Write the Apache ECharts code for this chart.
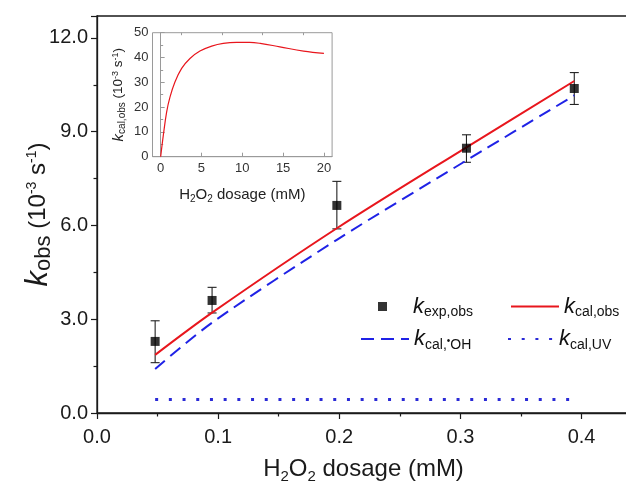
<!DOCTYPE html>
<html><head><meta charset="utf-8">
<script src="https://cdn.jsdelivr.net/npm/echarts@6/dist/echarts.min.js"></script>
<style>html,body{margin:0;padding:0;background:#fff}#c{width:626px;height:483px}</style>
</head><body><div id="c"></div>
<script>
// ---- data ----
const dosage = [0.048, 0.095, 0.198, 0.305, 0.394];
const kExpObs = [2.29, 3.60, 6.64, 8.47, 10.38];
const kExpLow = [1.61, 3.20, 5.89, 8.02, 9.87];
const kExpHigh = [2.95, 4.02, 7.41, 8.90, 10.89];
const kCalObs = [1.86, 3.21, 5.91, 8.50, 10.62];
const kCalOH = [1.41, 2.89, 5.54, 8.08, 10.16];
const kCalUV = [0.43, 0.43, 0.43, 0.43, 0.43];
const insetDosage = [0, 0.32, 0.73, 1.14, 1.75, 2.57, 3.59, 4.81, 6.25, 7.67, 9.3, 10.9, 12.2, 14.6, 17.5, 20];
const insetKCalObs = [0, 8.5, 18, 24, 30.1, 35.6, 39.6, 42.6, 44.6, 45.7, 46.1, 46.1, 45.7, 44.3, 42.6, 41.7];
const insetXTicks = [0, 5, 10, 15, 20];
const insetXMinorTicks = [2.5, 7.5, 12.5, 17.5];

const FONT = '"Liberation Sans", Arial, sans-serif';
const zip = (a, b) => a.map((v, i) => [v, b[i]]);

const legendRich = {
  g: {width: 21, fontSize: 10},
  k: {fontSize: 22, fontStyle: 'italic', lineHeight: 26, fontFamily: FONT, color: '#111'},
  s: {fontSize: 14, lineHeight: 14, verticalAlign: 'bottom', fontFamily: FONT, color: '#111'},
  d: {fontSize: 10, lineHeight: 10, verticalAlign: 'bottom', padding: [0, 0, 6, 0], fontFamily: FONT, color: '#111'}
};
const legendNames = {
  'kexp': '{g| }{k|k}{s|exp,obs}',
  'kcalobs': '{k|k}{s|cal,obs}',
  'kcaloh': '{k|k}{s|cal,}{d|•}{s|OH}',
  'kcaluv': '{k|k}{s|cal,UV}'
};
function mkLegend(name, left, top, w, h, hideSymbol) {
  const l = {
    data: [name], left: left, top: top, padding: 0, itemWidth: w, itemHeight: h,
    formatter: n => legendNames[n], selectedMode: false,
    textStyle: {rich: legendRich, fontFamily: FONT}
  };
  if (hideSymbol) l.itemStyle = {opacity: 0, borderWidth: 0};
  return l;
}

const chart = echarts.init(document.getElementById('c'), null, {renderer: 'canvas'});
chart.setOption({
  backgroundColor: '#fff',
  animation: false,
  grid: [
    {left: 97, top: 16, width: 533, height: 397, outerBoundsMode: 'none', containLabel: false, show: true, borderColor: '#1a1a1a', borderWidth: 1.3, backgroundColor: 'transparent'},
    {left: 152.5, top: 32.7, width: 179.6, height: 124, outerBoundsMode: 'none', containLabel: false, show: true, borderColor: '#9a9a9a', borderWidth: 1, backgroundColor: '#fff'}
  ],
  xAxis: [
    {
      gridIndex: 0, type: 'value', min: 0, max: 0.44, interval: 0.1,
      axisLine: {show: true, lineStyle: {color: '#1a1a1a', width: 1.3}},
      axisTick: {show: true, inside: false, length: 6, lineStyle: {color: '#1a1a1a', width: 1.2}},
      minorTick: {show: true, splitNumber: 2, length: 3.5, lineStyle: {color: '#1a1a1a', width: 1.2}},
      splitLine: {show: false},
      axisLabel: {fontSize: 20, fontFamily: FONT, color: '#1a1a1a', margin: 14, showMaxLabel: false, formatter: v => v.toFixed(1)},
      name: '{n|H}{s|2}{n|O}{s|2}{n| dosage (mM)}', nameLocation: 'middle', nameGap: 41,
      nameTextStyle: {rich: {
        n: {fontSize: 24, lineHeight: 30, fontFamily: FONT, color: '#1a1a1a'},
        s: {fontSize: 15, lineHeight: 15, verticalAlign: 'bottom', fontFamily: FONT, color: '#1a1a1a'}
      }}
    },
    {
      gridIndex: 1, type: 'value', min: -1, max: 21,
      axisLine: {show: true, lineStyle: {color: '#9a9a9a', width: 1}},
      axisTick: {show: true, inside: true, length: 4, customValues: insetXTicks, lineStyle: {color: '#9a9a9a'}},
      splitLine: {show: false},
      axisLabel: {fontSize: 13, fontFamily: FONT, color: '#333', margin: 5, customValues: insetXTicks},
      name: '{n|H}{s|2}{n|O}{s|2}{n| dosage (mM)}', nameLocation: 'middle', nameGap: 29,
      nameTextStyle: {rich: {
        n: {fontSize: 15, lineHeight: 19, fontFamily: FONT, color: '#222'},
        s: {fontSize: 10, lineHeight: 10, verticalAlign: 'bottom', fontFamily: FONT, color: '#222'}
      }}
    },
    {
      gridIndex: 1, type: 'value', min: -1, max: 21,
      axisLine: {show: false},
      axisTick: {show: true, inside: true, length: 2.5, customValues: insetXMinorTicks, lineStyle: {color: '#9a9a9a'}},
      splitLine: {show: false},
      axisLabel: {show: false}
    }
  ],
  yAxis: [
    {
      gridIndex: 0, type: 'value', min: 0, max: 12.7, interval: 3,
      axisLine: {show: true, lineStyle: {color: '#1a1a1a', width: 1.3}},
      axisTick: {show: true, inside: false, length: 6, lineStyle: {color: '#1a1a1a', width: 1.2}},
      minorTick: {show: true, splitNumber: 2, length: 3.5, lineStyle: {color: '#1a1a1a', width: 1.2}},
      splitLine: {show: false},
      axisLabel: {fontSize: 20, fontFamily: FONT, color: '#1a1a1a', margin: 9, showMaxLabel: false, formatter: v => v.toFixed(1)},
      name: '{k|k}{s|obs}{n| (10}{p|-3}{n| s}{p|-1}{n|)}', nameLocation: 'middle', nameGap: 42, nameRotate: 90,
      nameMoveOverlap: false,
      nameTextStyle: {rich: {
        k: {fontSize: 31, fontStyle: 'italic', lineHeight: 34, fontFamily: FONT, color: '#1a1a1a'},
        s: {fontSize: 22, lineHeight: 22, verticalAlign: 'bottom', fontFamily: FONT, color: '#1a1a1a'},
        n: {fontSize: 24, lineHeight: 34, fontFamily: FONT, color: '#1a1a1a'},
        p: {fontSize: 14, lineHeight: 14, verticalAlign: 'top', padding: [4, 0, 0, 0], fontFamily: FONT, color: '#1a1a1a'}
      }}
    },
    {
      gridIndex: 1, type: 'value', min: 0, max: 50, interval: 10,
      axisLine: {show: true, lineStyle: {color: '#9a9a9a', width: 1}},
      axisTick: {show: true, inside: true, length: 4, lineStyle: {color: '#9a9a9a'}},
      minorTick: {show: true, splitNumber: 2, length: 2.5, lineStyle: {color: '#9a9a9a'}},
      splitLine: {show: false},
      axisLabel: {fontSize: 13, fontFamily: FONT, color: '#333', margin: 4},
      name: '{k|k}{s|cal,obs}{n| (10}{p|-3}{n| s}{p|-1}{n|)}', nameLocation: 'middle', nameGap: 25, nameRotate: 90,
      nameTextStyle: {rich: {
        k: {fontSize: 15, fontStyle: 'italic', lineHeight: 18, fontFamily: FONT, color: '#222'},
        s: {fontSize: 10, lineHeight: 10, verticalAlign: 'bottom', fontFamily: FONT, color: '#222'},
        n: {fontSize: 13.5, lineHeight: 18, fontFamily: FONT, color: '#222'},
        p: {fontSize: 9, lineHeight: 9, verticalAlign: 'top', padding: [2, 0, 0, 0], fontFamily: FONT, color: '#222'}
      }}
    }
  ],
  legend: [
    mkLegend('kexp', 378, 295.5, 9, 9, false),
    mkLegend('kcalobs', 510, 295.5, 48, 12, true),
    mkLegend('kcaloh', 360, 328, 48, 12, true),
    mkLegend('kcaluv', 507, 328, 46, 12, true)
  ],
  series: [
    {
      type: 'custom', name: 'err', xAxisIndex: 0, yAxisIndex: 0,
      data: dosage.map((x, i) => [x, kExpLow[i], kExpHigh[i]]),
      encode: {x: 0, y: [1, 2]},
      renderItem: function (params, api) {
        const x = api.value(0);
        const top = api.coord([x, api.value(2)]);
        const bot = api.coord([x, api.value(1)]);
        const w = 4.5;
        const st = {stroke: '#222', lineWidth: 1.1};
        return {type: 'group', children: [
          {type: 'line', shape: {x1: top[0], y1: top[1], x2: bot[0], y2: bot[1]}, style: st},
          {type: 'line', shape: {x1: top[0] - w, y1: top[1], x2: top[0] + w, y2: top[1]}, style: st},
          {type: 'line', shape: {x1: bot[0] - w, y1: bot[1], x2: bot[0] + w, y2: bot[1]}, style: st}
        ]};
      },
      z: 2
    },
    {
      type: 'line', name: 'kcalobs', xAxisIndex: 0, yAxisIndex: 0,
      data: zip(dosage, kCalObs), symbol: 'none', smooth: 0.3,
      lineStyle: {color: '#e8161d', width: 2}, itemStyle: {color: '#e8161d'}, z: 3
    },
    {
      type: 'line', name: 'kcaloh', xAxisIndex: 0, yAxisIndex: 0,
      data: zip(dosage, kCalOH), symbol: 'none', smooth: 0.3,
      lineStyle: {color: '#1f22e6', width: 2, type: [13, 7]}, itemStyle: {color: '#1f22e6'}, z: 3
    },
    {
      type: 'line', name: 'kcaluv', xAxisIndex: 0, yAxisIndex: 0,
      data: zip(dosage, kCalUV), symbol: 'none',
      lineStyle: {color: '#2a2ad6', width: 3, type: [3, 10.7]}, itemStyle: {color: '#2a2ad6'}, z: 3
    },
    {
      type: 'scatter', name: 'kexp', xAxisIndex: 0, yAxisIndex: 0,
      data: zip(dosage, kExpObs), symbol: 'rect', symbolSize: 9,
      itemStyle: {color: '#000'}, z: 4
    },
    {
      type: 'line', name: 'inset', xAxisIndex: 1, yAxisIndex: 1,
      data: zip(insetDosage, insetKCalObs), symbol: 'none', smooth: 0.4,
      lineStyle: {color: '#e8161d', width: 1.2}, z: 5
    }
  ]
});
</script></body></html>
